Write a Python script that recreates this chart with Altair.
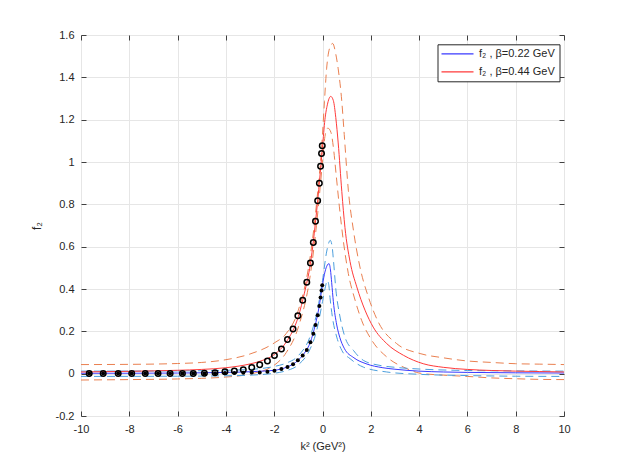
import altair as alt
import pandas as pd

# ---- curves ----
k_blue = [-10, -8, -6, -5, -4, -3, -2.5, -2, -1.5, -1, -0.75, -0.5, -0.3, -0.15, 0, 0.1, 0.2, 0.27, 0.33, 0.38, 0.45, 0.59, 0.72, 0.9, 1.3, 1.8, 2.5, 3, 4, 5, 6, 8, 10]
f_blue = [0.002, 0.002, 0.003, 0.004, 0.006, 0.009, 0.012, 0.016, 0.03, 0.064, 0.097, 0.15, 0.23, 0.31, 0.42, 0.48, 0.513, 0.52, 0.49, 0.43, 0.34, 0.23, 0.17, 0.12, 0.075, 0.047, 0.028, 0.021, 0.012, 0.008, 0.006, 0.004, 0.003]

k_blue_up = [-10, -6, -4, -3, -2, -1.5, -1, -0.5, -0.25, 0, 0.17, 0.25, 0.32, 0.4, 0.45, 0.56, 0.7, 0.93, 1.28, 1.69, 2.38, 3, 4, 6, 8, 10]
f_blue_up = [0.012, 0.013, 0.016, 0.02, 0.034, 0.05, 0.085, 0.18, 0.28, 0.44, 0.575, 0.615, 0.63, 0.6, 0.54, 0.39, 0.284, 0.173, 0.11, 0.063, 0.039, 0.03, 0.022, 0.015, 0.013, 0.012]

k_blue_lo = [-10, -6, -4, -3, -2, -1.5, -1, -0.5, -0.25, 0, 0.12, 0.2, 0.26, 0.31, 0.42, 0.59, 0.8, 1.14, 1.69, 2.66, 4, 6, 8, 10]
f_blue_lo = [-0.013, -0.012, -0.01, -0.007, 0.002, 0.014, 0.042, 0.12, 0.2, 0.34, 0.41, 0.44, 0.42, 0.36, 0.26, 0.173, 0.11, 0.071, 0.031, 0.008, -0.003, -0.009, -0.012, -0.013]

k_red = [-10, -8, -6, -5, -4, -3, -2.5, -2, -1.5, -1, -0.75, -0.5, -0.25, 0, 0.1, 0.2, 0.34, 0.45, 0.55, 0.65, 0.8, 0.93, 1.14, 1.42, 1.76, 2.1, 2.66, 3.35, 4.17, 5, 6, 7, 8, 9, 10]
f_red = [0.008, 0.011, 0.016, 0.02, 0.028, 0.046, 0.062, 0.09, 0.15, 0.27, 0.38, 0.52, 0.76, 1.07, 1.2, 1.27, 1.31, 1.29, 1.21, 1.09, 0.86, 0.69, 0.53, 0.41, 0.3, 0.22, 0.142, 0.087, 0.047, 0.03, 0.02, 0.015, 0.012, 0.01, 0.008]

k_red_up = [-10, -8, -6, -5, -4, -3, -2, -1.5, -1, -0.5, -0.25, 0, 0.08, 0.17, 0.3, 0.42, 0.55, 0.65, 0.8, 0.9, 1.07, 1.28, 1.55, 1.9, 2.31, 3.07, 4.04, 5, 6, 7, 8, 9, 10]
f_red_up = [0.043, 0.044, 0.048, 0.053, 0.066, 0.093, 0.145, 0.19, 0.3, 0.56, 0.8, 1.13, 1.285, 1.44, 1.54, 1.56, 1.51, 1.44, 1.285, 1.13, 0.867, 0.678, 0.504, 0.362, 0.244, 0.142, 0.095, 0.075, 0.06, 0.053, 0.047, 0.045, 0.043]

k_red_lo = [-10, -8, -6, -5, -4, -3, -2, -1.5, -1, -0.5, -0.25, 0, 0.1, 0.22, 0.35, 0.45, 0.56, 0.7, 0.86, 1.07, 1.35, 1.62, 2.04, 2.66, 3.49, 4, 5, 6, 7, 8, 9, 10]
f_red_lo = [-0.03, -0.028, -0.025, -0.022, -0.016, -0.002, 0.04, 0.1, 0.22, 0.47, 0.7, 1.0, 1.12, 1.16, 1.14, 1.07, 0.946, 0.788, 0.63, 0.473, 0.347, 0.252, 0.158, 0.079, 0.024, 0.003, -0.007, -0.013, -0.02, -0.024, -0.027, -0.028]

# ---- lattice points ----
k_lat = [-9.66, -9.08, -8.46, -7.90, -7.34, -6.81, -6.31, -5.80, -5.35, -4.89, -4.45, -4.04, -3.65, -3.28, -2.93, -2.60, -2.28,
         -1.99, -1.70, -1.45, -1.22, -1.02, -0.82, -0.65, -0.50, -0.38, -0.29, -0.20, -0.13, -0.08, -0.04, -0.01]
f_open = [0.001, 0.001, 0.001, 0.001, 0.001, 0.001, 0.001, 0.001, 0.001, 0.002, 0.004, 0.009, 0.013, 0.019, 0.029, 0.042, 0.060,
          0.086, 0.117, 0.161, 0.211, 0.274, 0.347, 0.432, 0.523, 0.62, 0.72, 0.817, 0.90, 0.98, 1.04, 1.077]
f_fill = [0.001, 0.001, 0.001, 0.001, 0.001, 0.001, 0.001, 0.001, 0.001, 0.001, 0.002, 0.003, 0.003, 0.004, 0.005, 0.006, 0.009,
          0.014, 0.022, 0.031, 0.045, 0.063, 0.086, 0.112, 0.148, 0.188, 0.23, 0.276, 0.32, 0.36, 0.393, 0.418]

x_ticks = [-10, -8, -6, -4, -2, 0, 2, 4, 6, 8, 10]
y_ticks = [-0.2, 0, 0.2, 0.4, 0.6, 0.8, 1, 1.2, 1.4, 1.6]

lab_blue = "f₂ , β=0.22 GeV"
lab_red = "f₂ , β=0.44 GeV"
col_blue = "#3A3AFF"
col_red = "#FF3A3A"

W, H = 483, 381
FONT = "Liberation Sans"

def curve(ks, fs, name):
    return pd.DataFrame({"k": ks, "f": fs, "c": name})

solid = pd.concat([curve(k_blue, f_blue, lab_blue), curve(k_red, f_red, lab_red)])
dash_blue = pd.concat([curve(k_blue_up, f_blue_up, "bu"), curve(k_blue_lo, f_blue_lo, "bl")])
dash_red = pd.concat([curve(k_red_up, f_red_up, "ru"), curve(k_red_lo, f_red_lo, "rl")])
pts = pd.DataFrame({"k": k_lat, "fo": f_open, "ff": f_fill})

xs = alt.Scale(domain=[-10, 10], nice=False, zero=False)
ys = alt.Scale(domain=[-0.2, 1.6], nice=False, zero=False)

lab_expr = "'' + datum.value"

ax_x_main = alt.Axis(values=x_ticks, labelExpr=lab_expr, title="k² (GeV²)", ticks=False, domain=False,
                     grid=True, gridColor="#e6e6e6", labelPadding=7, titlePadding=6, labelFlush=False,
                     labelFont=FONT, labelFontSize=11, labelColor="#262626",
                     titleFont=FONT, titleFontSize=11, titleFontWeight="normal", titleColor="#262626")
ax_y_main = alt.Axis(values=y_ticks, labelExpr=lab_expr, title="f₂", ticks=False, domain=False,
                     grid=True, gridColor="#e6e6e6", labelPadding=7, titlePadding=12, labelFlush=False,
                     labelFont=FONT, labelFontSize=11, labelColor="#262626",
                     titleFont=FONT, titleFontSize=12, titleFontWeight="normal", titleColor="#262626")

def tick_axis(orient, vals, offset):
    return alt.Axis(orient=orient, values=vals, offset=offset, labels=False, title=None, grid=False,
                    domain=False, ticks=True, tickSize=5, tickColor="#404040", tickWidth=1)

l_red_dash = alt.Chart(dash_red).mark_line(color="#EA8050", strokeWidth=1, strokeDash=[8, 5], interpolate="monotone").encode(
    x=alt.X("k:Q", scale=xs, axis=ax_x_main),
    y=alt.Y("f:Q", scale=ys, axis=ax_y_main),
    detail="c:N",
)
l_blue_dash = alt.Chart(dash_blue).mark_line(color="#4C9FDD", strokeWidth=1, strokeDash=[8, 5], interpolate="monotone").encode(
    x=alt.X("k:Q", scale=xs, axis=tick_axis("top", x_ticks, -H)),
    y=alt.Y("f:Q", scale=ys, axis=tick_axis("right", y_ticks, -W)),
    detail="c:N",
)
l_solid = alt.Chart(solid).mark_line(strokeWidth=1, interpolate="monotone").encode(
    x=alt.X("k:Q", scale=xs, axis=tick_axis("bottom", x_ticks, -H)),
    y=alt.Y("f:Q", scale=ys, axis=tick_axis("left", y_ticks, -W)),
    stroke=alt.Stroke("c:N", scale=alt.Scale(domain=[lab_blue, lab_red], range=[col_blue, col_red]),
                      legend=alt.Legend(title=None, orient="none", legendX=356.5, legendY=9.3,
                                        symbolType="M-4,0H4", symbolSize=64, symbolOffset=10.5,
                                        symbolStrokeWidth=1.2, symbolFillColor="transparent",
                                        labelFont=FONT, labelFontSize=11,
                                        labelColor="#262626", strokeColor="#262626", fillColor="white",
                                        padding=4, rowPadding=6, labelOffset=16, cornerRadius=0)),
)
l_open = alt.Chart(pts).mark_point(shape="circle", filled=False, color="black", size=30, strokeWidth=1.5, opacity=1).encode(
    x=alt.X("k:Q", scale=xs, axis=None),
    y=alt.Y("fo:Q", scale=ys, axis=None),
)
l_fill = alt.Chart(pts).mark_circle(color="black", size=16, opacity=1).encode(
    x=alt.X("k:Q", scale=xs, axis=None),
    y=alt.Y("ff:Q", scale=ys, axis=None),
)

chart = alt.layer(l_red_dash, l_blue_dash, l_solid, l_open, l_fill).resolve_axis(
    x="independent", y="independent"
).properties(
    width=W, height=H,
    autosize=alt.AutoSizeParams(type="none"),
    padding={"left": 73, "top": 27, "right": 51, "bottom": 43},
).configure_view(stroke="#808080", strokeWidth=1).configure(background="white")

chart.save("out.html", embed_options={"renderer": "svg", "actions": False})
